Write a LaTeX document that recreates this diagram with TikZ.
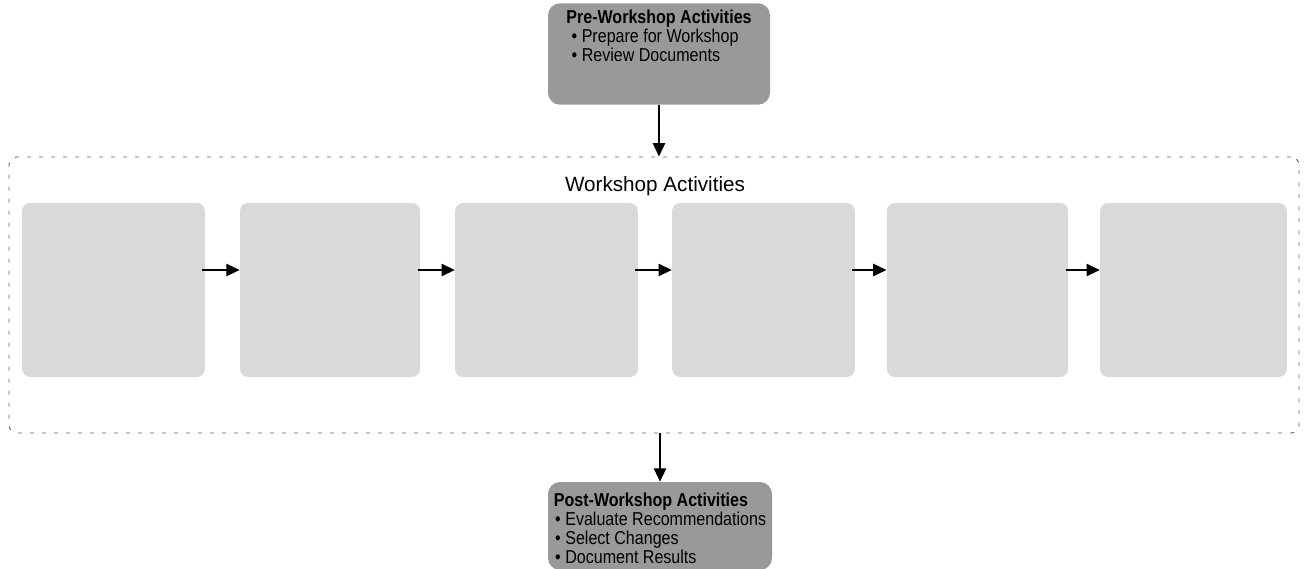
\documentclass[tikz,border=0pt]{standalone}
\usepackage{fontspec}
\setmainfont{Liberation Sans}
\newfontfamily\narrowfont[FakeStretch=0.86]{Liberation Sans}
\usetikzlibrary{arrows.meta}
\begin{document}
\begin{tikzpicture}[x=0.75pt,y=-0.75pt,
  darkbox/.style={draw=none,fill=black!40,rounded corners=9pt,inner sep=0pt},
  lightbox/.style={draw=none,fill=black!15,rounded corners=6pt,inner sep=0pt,
    minimum height=130.5pt},
  boxtext/.style={font=\narrowfont\fontsize{14}{14.3}\selectfont,align=left,inner sep=0pt,text=black},
  flow/.style={-{Triangle[length=10pt,width=9pt]},line width=1.7pt,black},
  frame/.style={draw=black!60,dashed,dash pattern=on 3pt off 6pt,line width=0.7pt,rounded corners=6pt}]
\useasboundingbox (0,0) rectangle (1307,568);
% top box
\node[darkbox,minimum width=166.5pt,minimum height=76pt] (pre) at (659,54) {};
\node[boxtext,anchor=north] (pretext) at ([yshift=-5pt]pre.north)
  {\textbf{Pre-Workshop Activities}\\\hspace*{4pt}• Prepare for Workshop\\\hspace*{4pt}• Review Documents};
% container
\node[frame,minimum width=967.5pt,minimum height=207pt] (ws) at (654,295) {};
\node[font=\fontsize{15.5}{17}\selectfont,inner sep=0pt] (wstitle) at (655,186) {Workshop Activities};
% six activity boxes
\node[lightbox,minimum width=137pt] (b1) at (113.5,290) {};
\node[lightbox,minimum width=135pt] (b2) at (330,290) {};
\node[lightbox,minimum width=137pt] (b3) at (546.5,290) {};
\node[lightbox,minimum width=137pt] (b4) at (763.5,290) {};
\node[lightbox,minimum width=136pt] (b5) at (977.5,290) {};
\node[lightbox,minimum width=140pt] (b6) at (1193.5,290) {};
\draw[flow] ([xshift=-2pt,yshift=15pt]b1.east) -- ([yshift=15pt]b2.west);
\draw[flow] ([xshift=-2pt,yshift=15pt]b2.east) -- ([yshift=15pt]b3.west);
\draw[flow] ([xshift=-2pt,yshift=15pt]b3.east) -- ([yshift=15pt]b4.west);
\draw[flow] ([xshift=-2pt,yshift=15pt]b4.east) -- ([yshift=15pt]b5.west);
\draw[flow] ([xshift=-2pt,yshift=15pt]b5.east) -- ([yshift=15pt]b6.west);
% bottom box
\node[darkbox,minimum width=168pt,minimum height=66pt] (post) at (660,526) {};
\node[boxtext,anchor=north] (posttext) at ([yshift=-8pt]post.north)
  {\textbf{Post-Workshop Activities}\\\hspace*{1pt}• Evaluate Recommendations\\\hspace*{1pt}• Select Changes\\\hspace*{1pt}• Document Results};
% vertical connectors
\draw[flow] (pre.south) -- (ws.north -| pre.south);
\draw[flow] (ws.south -| post.north) -- (post.north);
\end{tikzpicture}
\end{document}
